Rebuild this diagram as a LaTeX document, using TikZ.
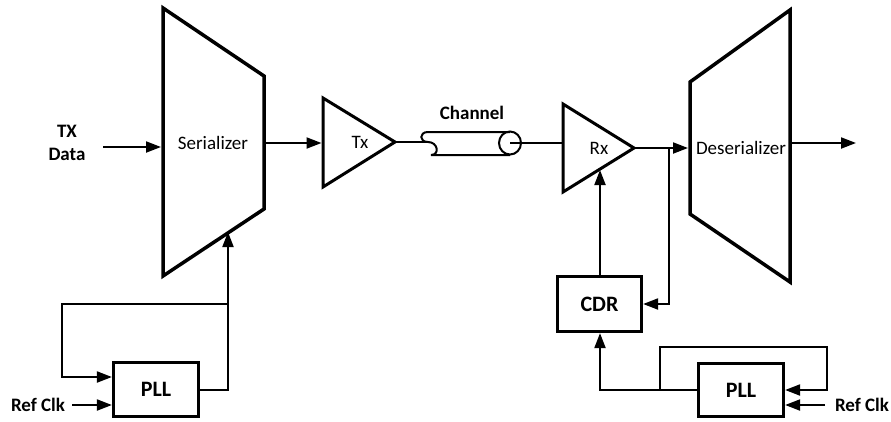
\documentclass[tikz,border=0pt]{standalone}
\usepackage{fontspec}
\setmainfont{Carlito}
\usetikzlibrary{arrows.meta}
\begin{document}
\begin{tikzpicture}[x=1pt,y=-1pt,
  wire/.style={line width=2pt},
  arr/.style={wire,-{Triangle[length=15pt,width=11pt]}},
  trap/.style={draw,line width=3.5pt,line join=miter},
  tri/.style={draw,line width=3pt,line join=miter},
  boxn/.style={draw,line width=3.2pt,inner sep=0pt,font=\fontsize{22}{24}\selectfont\bfseries},
  lbl/.style={font=\fontsize{19}{23}\selectfont\bfseries,align=center,inner sep=0pt},
  txt/.style={font=\fontsize{19}{22}\selectfont,inner sep=0pt}]
\useasboundingbox (0,0) rectangle (891,421);
% Serializer
\draw[trap] (163,8) -- (264,76) -- (264,209) -- (163,276) -- cycle;
\node[txt] (ser) at (213,143) {Serializer};
\coordinate (serIn) at (161,147);
\coordinate (serOut) at (264,143);
\coordinate (serClk) at (228,232);
% TX data
\node[lbl] (txd) at (67,143) {TX\\Data};
\coordinate (txdEnd) at (103,147);
\draw[arr] (txdEnd) -- (serIn);
% Tx driver
\draw[tri] (323,98) -- (395,142) -- (323,187) -- cycle;
\node[txt] (tx) at (360,142) {Tx};
\coordinate (txIn) at (321.5,143);
\coordinate (txOut) at (395,142);
\draw[arr] (serOut) -- (txIn);
% Channel
\coordinate (chIn) at (428,142);
\coordinate (chOut) at (510,143);
\draw[wire] (txOut) -- (chIn);
\draw[wire] (510,132) -- (428,132) .. controls (419,132) and (419,142) .. (chIn)
  .. controls (438,142) and (440,155) .. (431,155) -- (510,155);
\draw[wire] (chOut) ellipse (11pt and 11.5pt);
\node[lbl] (chl) at (472,113) {Channel};
% Rx
\draw[tri] (563,104) -- (634,148) -- (563,192) -- cycle;
\node[txt] (rx) at (599,148) {Rx};
\coordinate (rxIn) at (563,143);
\coordinate (rxOut) at (634,148);
\coordinate (rxClk) at (600,170);
\draw[wire] (chOut) -- (rxIn);
% Deserializer
\draw[trap] (690,82) -- (790,10) -- (790,282) -- (690,214) -- cycle;
\node[txt] (des) at (741,148) {Deserializer};
\coordinate (desIn) at (688,148);
\coordinate (desOut) at (790,143);
\coordinate (outEnd) at (856,143);
\draw[arr] (rxOut) -- (desIn);
\draw[arr] (desOut) -- (outEnd);
% CDR
\node[boxn,minimum width=84pt,minimum height=55pt] (cdr) at (599.5,304) {CDR};
\coordinate (jr) at (669,148);
\draw[arr] (jr) -- (669,304) -- (cdr.east);
\draw[arr] (cdr.north -| rxClk) -- (rxClk);
% Right PLL
\node[boxn,minimum width=85pt,minimum height=53pt] (pllR) at (741,390) {PLL};
\coordinate (jR) at (660,390);
\draw[arr] (pllR.west) -- (600,390) -- (cdr.south -| 600,0);
\draw[arr] (jR) -- (660,347) -- (827,347) -- (827,390) -- (pllR.east);
\node[lbl] (refR) at (862,405) {Ref Clk};
\coordinate (refRend) at (825,405);
\draw[arr] (refRend) -- (pllR.east |- refRend);
% Left PLL
\node[boxn,minimum width=85pt,minimum height=54pt] (pllL) at (156,389.5) {PLL};
\coordinate (jL) at (228,304);
\draw[arr] (pllL.east |- 0,390) -- (228,390) -- (serClk);
\draw[arr] (jL) -- (62,304) -- (62,377) -- (pllL.west |- 0,377);
\node[lbl] (refL) at (38,405) {Ref Clk};
\coordinate (refLend) at (72,405);
\draw[arr] (refLend) -- (pllL.west |- refLend);
\end{tikzpicture}
\end{document}
